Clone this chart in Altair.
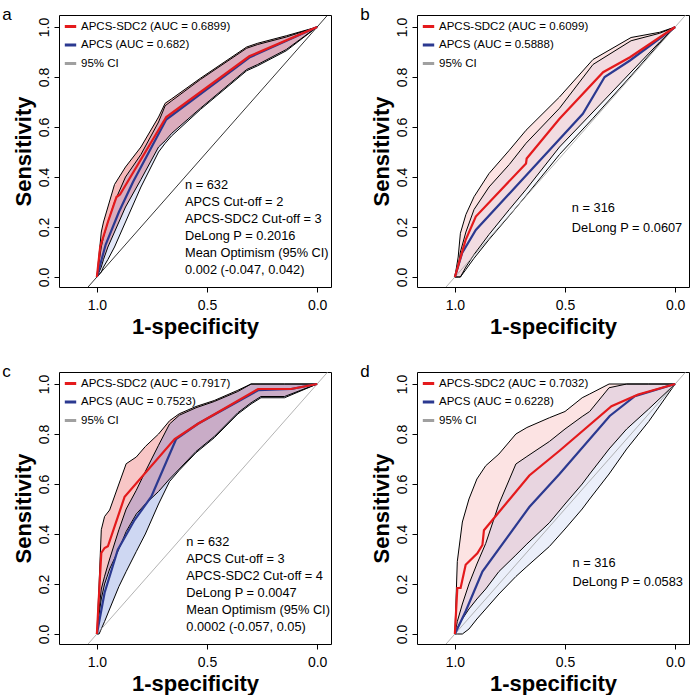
import altair as alt
import pandas as pd

FONT = "Liberation Sans"
RED = "#E41A1C"
BLUE = "#2B3990"
BAND_BLUE = "#3A5FCD"
GREY = "#A0A0A0"
CI_LABEL = "95% CI"
X_TITLE = "1-specificity"
Y_TITLE = "Sensitivity"
X_TICKS = [1.0, 0.5, 0.0]
Y_TICKS = [0.0, 0.2, 0.4, 0.6, 0.8, 1.0]
DIAG_SPEC = [1.4, -0.4]
DIAG_SENS = [-0.4, 1.4]

# ---------------- panel a ----------------
A_AUC = ["0.6899", "0.682"]
A_RED_SPEC = [1.0, 0.985, 0.95, 0.911, 0.895, 0.685, 0.308, 0.0]
A_RED_SENS = [0.0, 0.12, 0.22, 0.32, 0.33, 0.64, 0.883, 1.0]
A_BLUE_SPEC = [1.0, 0.96, 0.9, 0.836, 0.685, 0.308, 0.0]
A_BLUE_SENS = [0.0, 0.13, 0.26, 0.38, 0.63, 0.878, 1.0]
A_CI_SPEC = [1.0, 0.98, 0.97, 0.95, 0.92, 0.87, 0.8, 0.72, 0.69, 0.66, 0.53, 0.32, 0.27, 0.14, 0.0]
A_RED_HI = [0.0, 0.18, 0.22, 0.28, 0.37, 0.44, 0.52, 0.64, 0.695, 0.713, 0.795, 0.92, 0.935, 0.965, 1.0]
A_RED_LO = [0.0, 0.04, 0.07, 0.12, 0.18, 0.28, 0.39, 0.52, 0.545, 0.575, 0.675, 0.83, 0.85, 0.91, 1.0]
A_BLUE_HI = [0.0, 0.12, 0.16, 0.22, 0.30, 0.40, 0.49, 0.62, 0.685, 0.705, 0.79, 0.915, 0.93, 0.96, 1.0]
A_BLUE_LO = [0.0, 0.02, 0.04, 0.07, 0.12, 0.22, 0.36, 0.50, 0.535, 0.565, 0.67, 0.825, 0.845, 0.905, 1.0]
A_NOTES = ["n = 632", "APCS Cut-off = 2", "APCS-SDC2 Cut-off = 3", "DeLong P = 0.2016",
           "Mean Optimism (95% CI)", "0.002 (-0.047, 0.042)"]

# ---------------- panel b ----------------
B_AUC = ["0.6099", "0.5888"]
B_RED_SPEC = [1.0, 0.951, 0.905, 0.677, 0.674, 0.525, 0.327, 0.205, 0.0]
B_RED_SENS = [0.0, 0.149, 0.242, 0.454, 0.474, 0.633, 0.819, 0.879, 1.0]
B_BLUE_SPEC = [1.0, 0.967, 0.905, 0.419, 0.32, 0.205, 0.0]
B_BLUE_SENS = [0.0, 0.096, 0.188, 0.653, 0.8, 0.866, 1.0]
B_CI_SPEC = [1.0, 0.985, 0.975, 0.95, 0.913, 0.845, 0.753, 0.677, 0.525, 0.373, 0.2, 0.07, 0.0]
B_RED_HI = [0.0, 0.08, 0.175, 0.25, 0.321, 0.414, 0.507, 0.587, 0.72, 0.87, 0.958, 0.979, 1.0]
B_RED_LO = [0.0, 0.0, 0.0, 0.04, 0.09, 0.17, 0.27, 0.35, 0.52, 0.66, 0.82, 0.94, 1.0]
B_BLUE_HI = [0.0, 0.04, 0.1, 0.18, 0.27, 0.36, 0.45, 0.535, 0.675, 0.85, 0.945, 0.975, 1.0]
B_BLUE_LO = [0.0, 0.0, 0.0, 0.03, 0.075, 0.15, 0.245, 0.325, 0.49, 0.635, 0.805, 0.935, 1.0]
B_NOTES = ["n = 316", "DeLong P = 0.0607"]

# ---------------- panel c ----------------
C_AUC = ["0.7917", "0.7523"]
C_RED_SPEC = [1.0, 0.98, 0.965, 0.95, 0.874, 0.647, 0.541, 0.268, 0.118, 0.0]
C_RED_SENS = [0.0, 0.324, 0.344, 0.351, 0.549, 0.78, 0.841, 0.98, 0.98, 1.0]
C_BLUE_SPEC = [1.0, 0.965, 0.905, 0.829, 0.753, 0.64, 0.541, 0.268, 0.118, 0.0]
C_BLUE_SENS = [0.0, 0.165, 0.337, 0.456, 0.549, 0.78, 0.841, 0.975, 0.98, 1.0]
C_CI_SPEC = [1.0, 0.99, 0.98, 0.965, 0.942, 0.9, 0.867, 0.821, 0.78, 0.72, 0.67, 0.626,
             0.55, 0.467, 0.36, 0.3, 0.255, 0.148, 0.0]
C_RED_HI = [0.0, 0.2, 0.417, 0.47, 0.496, 0.6, 0.681, 0.708, 0.75, 0.8, 0.853, 0.881,
            0.91, 0.934, 0.975, 1.0, 1.0, 1.0, 1.0]
C_RED_LO = [0.0, 0.08, 0.14, 0.2, 0.26, 0.34, 0.41, 0.48, 0.52, 0.57, 0.62, 0.66,
            0.73, 0.79, 0.885, 0.925, 0.95, 0.95, 1.0]
C_BLUE_HI = [0.0, 0.1, 0.18, 0.231, 0.3, 0.417, 0.5, 0.575, 0.65, 0.755, 0.84, 0.875,
             0.905, 0.93, 0.97, 1.0, 1.0, 1.0, 1.0]
C_BLUE_LO = [0.0, 0.0, 0.02, 0.05, 0.1, 0.19, 0.25, 0.33, 0.4, 0.52, 0.61, 0.655,
             0.725, 0.785, 0.88, 0.92, 0.945, 0.945, 1.0]
C_NOTES = ["n = 632", "APCS Cut-off = 3", "APCS-SDC2 Cut-off = 4", "DeLong P = 0.0047",
           "Mean Optimism (95% CI)", "0.0002 (-0.057, 0.05)"]

# ---------------- panel d ----------------
D_AUC = ["0.7032", "0.6228"]
D_RED_SPEC = [1.0, 0.989, 0.974, 0.951, 0.898, 0.875, 0.868, 0.662, 0.525, 0.289, 0.168, 0.0]
D_RED_SENS = [0.0, 0.184, 0.184, 0.277, 0.323, 0.356, 0.415, 0.634, 0.733, 0.911, 0.958, 1.0]
D_BLUE_SPEC = [1.0, 0.951, 0.875, 0.662, 0.525, 0.297, 0.183, 0.0]
D_BLUE_SENS = [0.0, 0.091, 0.25, 0.508, 0.64, 0.872, 0.951, 1.0]
D_CI_SPEC = [1.0, 0.989, 0.966, 0.936, 0.9, 0.86, 0.8, 0.723, 0.673, 0.571, 0.5, 0.422,
             0.388, 0.3, 0.22, 0.12, 0.0]
D_RED_HI = [0.0, 0.29, 0.448, 0.54, 0.62, 0.673, 0.72, 0.8, 0.826, 0.865, 0.89, 0.945,
            0.96, 1.0, 1.0, 1.0, 1.0]
D_RED_LO = [0.0, 0.025, 0.06, 0.1, 0.14, 0.18, 0.25, 0.316, 0.36, 0.445, 0.52, 0.6,
            0.64, 0.74, 0.82, 0.9, 1.0]
D_BLUE_HI = [0.0, 0.05, 0.12, 0.2, 0.28, 0.362, 0.52, 0.68, 0.71, 0.77, 0.82, 0.87,
             0.89, 0.985, 1.0, 1.0, 1.0]
D_BLUE_LO = [0.0, 0.0, 0.0, 0.02, 0.06, 0.1, 0.16, 0.23, 0.27, 0.35, 0.42, 0.5,
             0.54, 0.64, 0.74, 0.85, 1.0]
D_NOTES = ["n = 316", "DeLong P = 0.0583"]

# ---------------- layout / style (not data) ----------------
W, H = 272, 272
X_DOMAIN = [-0.063, 1.172]
Y_DOMAIN = [-0.04, 1.048]
LETTER_AT = (1.43, 1.03)

PANELS = [
    dict(letter="a", auc=A_AUC, red=(A_RED_SPEC, A_RED_SENS), blue=(A_BLUE_SPEC, A_BLUE_SENS),
         ci=(A_CI_SPEC, A_RED_HI, A_RED_LO, A_BLUE_HI, A_BLUE_LO), notes=A_NOTES,
         note_at=(0.60, 0.369), note_step=0.068, diag="#000000", red_op=0.30, blue_op=0.15),
    dict(letter="b", auc=B_AUC, red=(B_RED_SPEC, B_RED_SENS), blue=(B_BLUE_SPEC, B_BLUE_SENS),
         ci=(B_CI_SPEC, B_RED_HI, B_RED_LO, B_BLUE_HI, B_BLUE_LO), notes=B_NOTES,
         note_at=(0.469, 0.275), note_step=0.08, diag=GREY, red_op=0.12, blue_op=0.05),
    dict(letter="c", auc=C_AUC, red=(C_RED_SPEC, C_RED_SENS), blue=(C_BLUE_SPEC, C_BLUE_SENS),
         ci=(C_CI_SPEC, C_RED_HI, C_RED_LO, C_BLUE_HI, C_BLUE_LO), notes=C_NOTES,
         note_at=(0.594, 0.37), note_step=0.068, diag=GREY, red_op=0.25, blue_op=0.25),
    dict(letter="d", auc=D_AUC, red=(D_RED_SPEC, D_RED_SENS), blue=(D_BLUE_SPEC, D_BLUE_SENS),
         ci=(D_CI_SPEC, D_RED_HI, D_RED_LO, D_BLUE_HI, D_BLUE_LO), notes=D_NOTES,
         note_at=(0.466, 0.283), note_step=0.075, diag=GREY, red_op=0.12, blue_op=0.10),
]


def enc_x(field):
    return alt.X(field, type="quantitative",
                 scale=alt.Scale(domain=X_DOMAIN, reverse=True, nice=False, zero=False),
                 axis=alt.Axis(values=X_TICKS, format=".1f", title=X_TITLE))


def enc_y(field):
    return alt.Y(field, type="quantitative",
                 scale=alt.Scale(domain=Y_DOMAIN, nice=False, zero=False),
                 axis=alt.Axis(values=Y_TICKS, format=".1f", title=Y_TITLE))


def build(p):
    labels = [f"APCS-SDC2 (AUC = {p['auc'][0]})", f"APCS (AUC = {p['auc'][1]})", CI_LABEL]
    color = alt.Color("label:N",
                      scale=alt.Scale(domain=labels, range=[RED, BLUE, GREY]),
                      legend=alt.Legend(title=None, orient="top-left", symbolType="stroke",
                                        symbolStrokeWidth=3, symbolSize=130, labelFontSize=11.5,
                                        labelFont=FONT, labelColor="black", offset=2, padding=2,
                                        rowPadding=4.5, labelLimit=400, labelOffset=3))

    def curve_df(spec, sens, label):
        return pd.DataFrame({"spec": spec, "sens": sens, "label": label,
                             "ord": list(range(len(spec)))})

    red_df = curve_df(*p["red"], labels[0])
    blue_df = curve_df(*p["blue"], labels[1])

    ci_spec, rhi, rlo, bhi, blo = p["ci"]
    band_red = pd.DataFrame({"spec": ci_spec, "hi": rhi, "lo": rlo})
    band_blue = pd.DataFrame({"spec": ci_spec, "hi": bhi, "lo": blo})
    bounds = pd.concat([
        pd.DataFrame({"spec": ci_spec, "sens": vals, "grp": name, "ord": list(range(len(ci_spec)))})
        for name, vals in (("rhi", rhi), ("rlo", rlo), ("bhi", bhi), ("blo", blo))
    ])
    diag = pd.DataFrame({"spec": DIAG_SPEC, "sens": DIAG_SENS})
    nx, ny = p["note_at"]
    notes = pd.DataFrame({"spec": [nx] * len(p["notes"]),
                          "sens": [ny - i * p["note_step"] for i in range(len(p["notes"]))],
                          "text": p["notes"]})
    letter = pd.DataFrame({"spec": [LETTER_AT[0]], "sens": [LETTER_AT[1]], "text": [p["letter"]]})

    fill_red = alt.Chart(band_red).mark_area(color=RED, opacity=p["red_op"]).encode(
        x=enc_x("spec"), y=enc_y("hi"), y2="lo")
    fill_blue = alt.Chart(band_blue).mark_area(color=BAND_BLUE, opacity=p["blue_op"]).encode(
        x=enc_x("spec"), y=enc_y("hi"), y2="lo")
    ci_lines = alt.Chart(bounds).mark_line(color="black", strokeWidth=1).encode(
        x=enc_x("spec"), y=enc_y("sens"), detail="grp:N", order="ord:Q")
    diag_line = alt.Chart(diag).mark_line(color=p["diag"], strokeWidth=0.8, clip=True).encode(
        x=enc_x("spec"), y=enc_y("sens"))
    blue_line = alt.Chart(blue_df).mark_line(strokeWidth=2.2).encode(
        x=enc_x("spec"), y=enc_y("sens"), color=color, order="ord:Q")
    red_line = alt.Chart(red_df).mark_line(strokeWidth=2.2).encode(
        x=enc_x("spec"), y=enc_y("sens"), color=color, order="ord:Q")
    note_text = alt.Chart(notes).mark_text(align="left", baseline="middle", fontSize=12.8,
                                           font=FONT, color="black").encode(
        x=enc_x("spec"), y=enc_y("sens"), text="text:N")
    letter_text = alt.Chart(letter).mark_text(align="left", baseline="alphabetic", fontSize=17,
                                              font=FONT, color="black").encode(
        x=enc_x("spec"), y=enc_y("sens"), text="text:N")

    return alt.layer(fill_red, fill_blue, ci_lines, diag_line, blue_line, red_line,
                     note_text, letter_text).properties(width=W, height=H)


panels = [build(p) for p in PANELS]
row1 = alt.hconcat(panels[0], panels[1], spacing=27).resolve_scale(color="independent")
row2 = alt.hconcat(panels[2], panels[3], spacing=27).resolve_scale(color="independent")

chart = alt.vconcat(row1, row2, spacing=24).resolve_scale(color="independent").properties(
    padding={"left": 1, "top": 5, "right": 0, "bottom": 0}
).configure_view(stroke="black", strokeWidth=1).configure_axis(
    labelFont=FONT, titleFont=FONT, labelFontSize=14, titleFontSize=22, titleFontWeight="bold",
    labelColor="black", titleColor="black", tickColor="black", tickSize=5, tickWidth=1,
    domain=False, grid=False
).configure_axisX(labelPadding=6, titlePadding=4).configure_axisY(
    labelAngle=-90, labelAlign="center", labelBaseline="bottom", labelPadding=3, titlePadding=2
)

chart.save("out.html", embed_options={"renderer": "svg", "actions": False})
